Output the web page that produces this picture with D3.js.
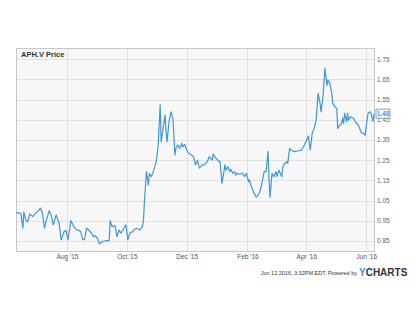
<!DOCTYPE html>
<html lang="en">
  <head>
    <meta charset="utf-8">
    <title>APH.V Price</title>
    <style>
      body { margin: 0; background: #fff; }
      svg text { font-family: "Liberation Sans", Arial, sans-serif; }
    </style>
    <script src="https://cdn.jsdelivr.net/npm/d3@7"></script>
  </head>
  <body>
    <svg id="chart" width="420" height="322"></svg>
    <script>

      // ---- data ----
      var dates = ["2015-06-10","2015-06-15","2015-06-17","2015-06-18","2015-06-20","2015-06-22","2015-06-24",
        "2015-06-27","2015-06-30","2015-07-02","2015-07-05","2015-07-07","2015-07-09","2015-07-11","2015-07-14",
        "2015-07-16","2015-07-18","2015-07-21","2015-07-24","2015-07-26","2015-07-29","2015-07-31","2015-08-02",
        "2015-08-05","2015-08-08","2015-08-10","2015-08-12","2015-08-15","2015-08-17","2015-08-19","2015-08-21",
        "2015-08-23","2015-08-26","2015-08-28","2015-08-30","2015-09-01","2015-09-03","2015-09-06","2015-09-10",
        "2015-09-13","2015-09-14","2015-09-16","2015-09-19","2015-09-21","2015-09-23","2015-09-25","2015-09-27",
        "2015-09-30","2015-10-02","2015-10-04","2015-10-07","2015-10-09","2015-10-11","2015-10-14","2015-10-17",
        "2015-10-18","2015-10-19","2015-10-21","2015-10-23","2015-10-24","2015-10-26","2015-10-28","2015-10-30",
        "2015-10-31","2015-11-02","2015-11-04","2015-11-05","2015-11-07","2015-11-09","2015-11-10","2015-11-11",
        "2015-11-13","2015-11-15","2015-11-17","2015-11-19","2015-11-20","2015-11-22","2015-11-24","2015-11-26",
        "2015-11-27","2015-11-29","2015-12-01","2015-12-03","2015-12-06","2015-12-08","2015-12-10","2015-12-12",
        "2015-12-14","2015-12-17","2015-12-19","2015-12-22","2015-12-24","2015-12-27","2015-12-28","2015-12-31",
        "2016-01-03","2016-01-04","2016-01-06","2016-01-08","2016-01-09","2016-01-10","2016-01-12","2016-01-14",
        "2016-01-15","2016-01-17","2016-01-19","2016-01-20","2016-01-22","2016-01-24","2016-01-27","2016-01-29",
        "2016-01-31","2016-02-02","2016-02-03","2016-02-05","2016-02-07","2016-02-10","2016-02-13","2016-02-15",
        "2016-02-18","2016-02-20","2016-02-22","2016-02-23","2016-02-24","2016-02-26","2016-02-28","2016-03-01",
        "2016-03-02","2016-03-04","2016-03-07","2016-03-08","2016-03-10","2016-03-12","2016-03-13","2016-03-15",
        "2016-03-16","2016-03-20","2016-03-23","2016-03-27","2016-03-30","2016-04-02","2016-04-03","2016-04-05",
        "2016-04-07","2016-04-09","2016-04-11","2016-04-13","2016-04-15","2016-04-16","2016-04-18","2016-04-20",
        "2016-04-22","2016-04-23","2016-04-25","2016-04-27","2016-04-28","2016-04-30","2016-05-02","2016-05-03",
        "2016-05-05","2016-05-07","2016-05-08","2016-05-09","2016-05-10","2016-05-12","2016-05-13","2016-05-14",
        "2016-05-16","2016-05-19","2016-05-21","2016-05-24","2016-05-26","2016-05-27","2016-05-29","2016-05-31",
        "2016-06-01","2016-06-03","2016-06-05","2016-06-06","2016-06-08","2016-06-09"];

      var prices = [0.99,0.987,0.913,0.992,0.954,0.945,0.983,
        0.97,0.987,0.995,1.012,0.987,0.913,0.954,1.0,
        0.974,0.929,0.979,0.937,0.855,0.896,0.901,0.855,
        0.95,0.921,0.908,0.904,0.896,0.855,0.858,0.913,
        0.904,0.888,0.871,0.875,0.863,0.835,0.847,0.851,
        0.851,0.95,0.921,0.924,0.871,0.904,0.888,0.904,
        0.929,0.855,0.888,0.896,0.908,0.913,0.904,0.921,
        0.954,1.05,1.193,1.127,1.185,1.168,1.193,1.226,
        1.242,1.325,1.523,1.341,1.407,1.473,1.391,1.341,
        1.44,1.489,1.457,1.275,1.308,1.325,1.308,1.333,
        1.316,1.328,1.30,1.284,1.275,1.267,1.226,1.25,
        1.21,1.226,1.226,1.242,1.267,1.25,1.28,1.259,
        1.242,1.245,1.135,1.193,1.226,1.20,1.217,1.193,
        1.205,1.185,1.193,1.176,1.185,1.18,1.185,1.168,
        1.185,1.143,1.152,1.118,1.094,1.066,1.086,1.118,
        1.193,1.193,1.292,1.152,1.066,1.185,1.168,1.193,
        1.168,1.20,1.168,1.217,1.234,1.242,1.234,1.308,
        1.30,1.292,1.295,1.30,1.325,1.358,1.369,1.30,
        1.383,1.407,1.448,1.58,1.531,1.489,1.563,1.704,
        1.621,1.646,1.63,1.58,1.531,1.514,1.506,1.407,
        1.424,1.432,1.457,1.432,1.482,1.44,1.482,1.448,
        1.465,1.457,1.44,1.424,1.399,1.386,1.383,1.374,
        1.415,1.482,1.489,1.482,1.44,1.48];

      var yTicks = [0.85, 0.95, 1.05, 1.15, 1.25, 1.35, 1.45, 1.55, 1.65, 1.75];
      var xTickDates = ["2015-08-01","2015-10-01","2015-12-01","2016-02-01","2016-04-01","2016-06-01"];
      var xTickLabels = ["Aug '15","Oct '15","Dec '15","Feb '16","Apr '16","Jun '16"];
      var lastPrice = 1.48;

      (function () {
        var parse = d3.timeParse("%Y-%m-%d");
        var points = dates.map(function(d, i) { return {date: parse(d), price: prices[i]}; });
        var tickDates = xTickDates.map(parse);

        // plot box edges
        var pl = 16, pr = 374, pt = 48, pb = 251;
        var lineColor = "#3f97da";

        var svg = d3.select("#chart");

        var x = d3.scaleTime()
            .domain([parse("2015-06-10"), parse("2016-06-09")])
            .range([pl, pr]);
        var y = d3.scaleLinear()
            .domain([0.80, 1.805])
            .range([pb, pt]);

        // plot background
        svg.append("rect")
            .attr("x", pl).attr("y", pt)
            .attr("width", pr - pl).attr("height", pb - pt)
            .style("fill", "#f7f7f7");

        // grid lines
        svg.append("g").selectAll("line").data(yTicks).enter()
          .append("line")
            .attr("x1", pl).attr("x2", pr)
            .attr("y1", function(d) { return Math.round(y(d)) + 0.5; })
            .attr("y2", function(d) { return Math.round(y(d)) + 0.5; })
            .style("stroke", "#e2e2e2").style("stroke-width", 1);
        svg.append("g").selectAll("line").data(tickDates).enter()
          .append("line")
            .attr("y1", pt).attr("y2", pb)
            .attr("x1", function(d) { return Math.round(x(d)) + 0.5; })
            .attr("x2", function(d) { return Math.round(x(d)) + 0.5; })
            .style("stroke", "#e2e2e2").style("stroke-width", 1);

        // border
        svg.append("rect")
            .attr("x", pl + 0.5).attr("y", pt + 0.5)
            .attr("width", pr - pl).attr("height", pb - pt)
            .style("fill", "none").style("stroke", "#c8c8c8");

        // price line
        var line = d3.line()
            .x(function(d) { return x(d.date); })
            .y(function(d) { return y(d.price); });
        svg.append("path")
            .datum(points)
            .attr("d", line)
            .style("fill", "none")
            .style("stroke", lineColor)
            .style("stroke-width", 1.2)
            .style("stroke-linejoin", "round");

        // right axis
        var yAxis = d3.axisRight(y).tickValues(yTicks).tickSize(0).tickPadding(3)
            .tickFormat(d3.format(".2f"));
        var gy = svg.append("g").attr("transform", "translate(" + pr + ",0)").call(yAxis);
        gy.select(".domain").remove();
        gy.selectAll("text").style("font-size", "6.5px").style("fill", "#666");

        // bottom axis
        var xAxis = d3.axisBottom(x).tickValues(tickDates).tickSize(0).tickPadding(3)
            .tickFormat(function(d, i) { return xTickLabels[i]; });
        var gx = svg.append("g").attr("transform", "translate(0," + pb + ")").call(xAxis);
        gx.select(".domain").remove();
        gx.selectAll("text").style("font-size", "6.5px").style("fill", "#555");

        // last value flag
        var flag = svg.append("g").attr("transform", "translate(376," + y(lastPrice) + ")");
        flag.append("rect")
            .attr("x", 0).attr("y", -4.5).attr("width", 14).attr("height", 9)
            .style("fill", "#fff").style("stroke", lineColor).style("stroke-width", 0.8);
        flag.append("text")
            .attr("x", 7).attr("y", 2.3)
            .attr("text-anchor", "middle")
            .style("font-size", "6.5px").style("font-weight", "bold").style("fill", lineColor)
            .text(d3.format(".2f")(lastPrice));

        // title
        svg.append("text")
            .attr("x", 21).attr("y", 57)
            .style("font-size", "7.5px").style("font-weight", "bold").style("fill", "#333")
            .text("APH.V Price");

        // footer
        svg.append("text")
            .attr("x", 357).attr("y", 274.5)
            .attr("text-anchor", "end")
            .style("font-size", "5.5px").style("fill", "#333")
            .text("Jun 12 2016, 3:32PM EDT.  Powered by");
        var logo = svg.append("text")
            .attr("x", 359).attr("y", 276)
            .style("font-size", "10px").style("font-weight", "bold");
        logo.append("tspan").style("fill", "#3d8fd6").text("Y");
        logo.append("tspan").style("fill", "#2b3440").text("CHARTS");
      }());
    </script>
  </body>
</html>
